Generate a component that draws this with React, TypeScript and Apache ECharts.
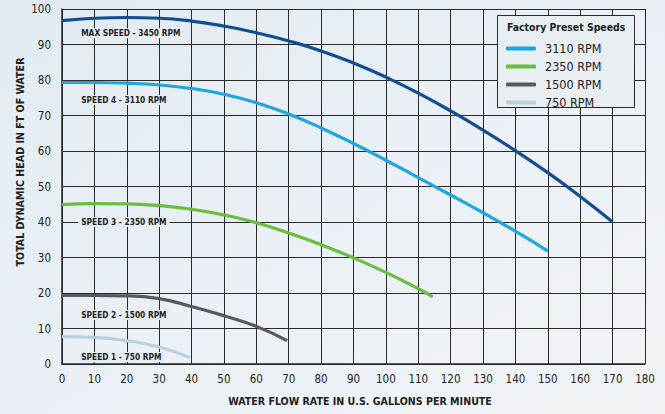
import React, { useEffect, useRef } from "react";
import * as echarts from "echarts";

const xTicks = [0, 10, 20, 30, 40, 50, 60, 70, 80, 90, 100, 110, 120, 130, 140, 150, 160, 170, 180];

const maxSpeedFlow = [0, 10, 20, 30, 40, 50, 60, 70, 80, 90, 100, 110, 120, 130, 140, 150, 160, 170];
const maxSpeedHead = [96.7, 97.4, 97.6, 97.4, 96.6, 95.2, 93.3, 91, 88.2, 84.8, 80.8, 76.3, 71.3, 65.9, 60.1, 53.9, 47.2, 40];

const speed4Flow = [0, 10, 20, 30, 40, 50, 60, 70, 80, 90, 100, 110, 120, 130, 140, 150];
const speed4Head = [79.3, 79.3, 79.1, 78.6, 77.6, 76, 73.6, 70.4, 66.5, 62.1, 57.4, 52.5, 47.6, 42.6, 37.4, 31.8];

const speed3Flow = [0, 10, 20, 30, 40, 50, 60, 70, 80, 90, 100, 110, 114.5];
const speed3Head = [44.9, 45.2, 45.1, 44.6, 43.6, 42, 39.8, 36.9, 33.6, 29.9, 25.8, 21.2, 18.9];

const speed2Flow = [0, 10, 20, 30, 40, 50, 60, 69.5];
const speed2Head = [19.3, 19.3, 19.2, 18.4, 16.2, 13.6, 10.6, 6.6];

const speed1Flow = [0, 10, 20, 30, 39.5];
const speed1Head = [7.7, 7.5, 6.6, 4.8, 1.8];

const seriesNames = ["3450 RPM", "3110 RPM", "2350 RPM", "1500 RPM", "750 RPM"];
const curveLabels = ["MAX SPEED - 3450 RPM", "SPEED 4 - 3110 RPM", "SPEED 3 - 2350 RPM", "SPEED 2 - 1500 RPM", "SPEED 1 - 750 RPM"];
const labelHeads = [93.2, 74.4, 40, 13.8, 2];
const legendNames = ["3110 RPM", "2350 RPM", "1500 RPM", "750 RPM"];
const legendTitle = "Factory Preset Speeds";
const xTitle = "WATER FLOW RATE IN U.S. GALLONS PER MINUTE";
const yTitle = "TOTAL DYNAMIC HEAD IN FT OF WATER";

const colors = ["#124d92", "#1fa6df", "#69bd40", "#58595b", "#b9cfdc"];
const FONT = "'Liberation Sans Narrow', 'DejaVu Sans Condensed', Roboto, sans-serif";

function pairs(xs: number[], ys: number[]) {
  return xs.map((x, i) => [x, ys[i]]);
}

export default function App() {
  const ref = useRef<HTMLDivElement>(null);
  useEffect(() => {
    if (!ref.current) return;
    const chart = echarts.init(ref.current, undefined, { renderer: "svg" });
    const flows = [maxSpeedFlow, speed4Flow, speed3Flow, speed2Flow, speed1Flow];
    const heads = [maxSpeedHead, speed4Head, speed3Head, speed2Head, speed1Head];
    chart.setOption({
      animation: false,
      backgroundColor: new echarts.graphic.LinearGradient(0, 0, 1, 1, [
        { offset: 0, color: "#e2ebf2" },
        { offset: 1, color: "#f2f5f8" },
      ]),
      textStyle: { fontFamily: FONT },
      grid: { left: 62, right: 20, top: 9, bottom: 50 },
      xAxis: {
        type: "value",
        min: 0,
        max: 180,
        interval: 10,
        axisLine: { show: true, lineStyle: { color: "#2a2a2a", width: 1.5 } },
        axisTick: { show: false },
        axisLabel: { fontSize: 11.5, color: "#222", margin: 9, fontFamily: FONT, customValues: xTicks },
        splitLine: { show: true, lineStyle: { color: "#2a2a2a", width: 1 } },
      },
      yAxis: {
        type: "value",
        min: 0,
        max: 100,
        interval: 10,
        axisLine: { show: true, lineStyle: { color: "#2a2a2a", width: 1.5 } },
        axisTick: { show: false },
        axisLabel: { fontSize: 11.5, color: "#222", margin: 11, fontFamily: FONT },
        splitLine: { show: true, lineStyle: { color: "#2a2a2a", width: 1 } },
      },
      legend: {
        data: legendNames,
        orient: "vertical",
        left: 501,
        top: 37,
        itemWidth: 30,
        itemHeight: 4,
        itemGap: 5,
        icon: "roundRect",
        z: 20,
        textStyle: { fontSize: 12.5, color: "#222", fontFamily: FONT, padding: [0, 0, 0, 4], lineHeight: 13 },
      },
      graphic: [
        {
          type: "rect",
          left: 497,
          top: 15,
          z: 15,
          shape: { width: 137, height: 92 },
          style: { fill: "#e8eef2", stroke: "#2a2a2a", lineWidth: 1 },
        },
        {
          type: "text",
          left: 507,
          top: 22,
          z: 16,
          style: { text: legendTitle, font: `bold 10.4px ${FONT}`, fill: "#222" },
        },
        {
          type: "text",
          x: 360,
          y: 401,
          style: {
            text: xTitle,
            font: `bold 10.6px ${FONT}`,
            fill: "#222",
            textAlign: "center",
            textVerticalAlign: "middle",
          },
        },
        {
          type: "text",
          x: 20,
          y: 162,
          rotation: Math.PI / 2,
          style: {
            text: yTitle,
            font: `bold 10.6px ${FONT}`,
            fill: "#222",
            textAlign: "center",
            textVerticalAlign: "middle",
          },
        },
      ],
      series: seriesNames.map((name, i) => ({
        name,
        type: "line",
        smooth: true,
        symbol: "none",
        data: pairs(flows[i], heads[i]),
        lineStyle: { color: colors[i], width: 3.2 },
        itemStyle: { color: colors[i] },
        z: 5,
        markPoint: {
          symbol: "circle",
          symbolSize: 0,
          silent: true,
          data: [
            {
              coord: [5, labelHeads[i]],
              label: {
                show: true,
                position: "right",
                distance: 0,
                formatter: curveLabels[i],
                fontSize: 8.3,
                fontWeight: "bold",
                color: "#1e1e1e",
                fontFamily: FONT,
                backgroundColor: "#e6edf3",
                padding: [1, 3, 1, 3],
              },
            },
          ],
        },
      })),
    });
    return () => chart.dispose();
  }, []);
  return (
    <div
      ref={ref}
      style={{ position: "fixed", left: 0, top: 0, width: 665, height: 414 }}
    />
  );
}
